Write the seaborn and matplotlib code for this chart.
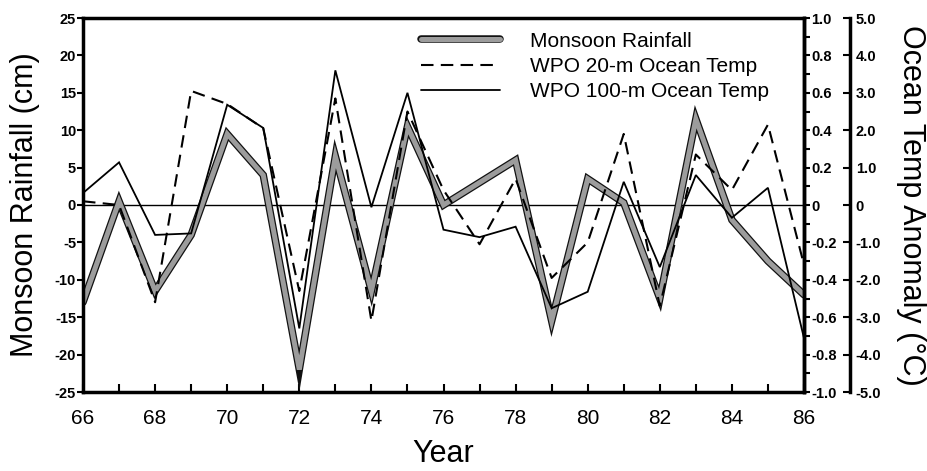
import matplotlib
matplotlib.use("Agg")
import matplotlib.pyplot as plt
import matplotlib.patheffects as pe
import seaborn as sns
import pandas as pd

# ---------------- data ----------------
years = list(range(66, 87))
rainfall_cm = [-13, 0.5, -11.5, -4, 9.5, 4, -22, 6.5, -11.5, 10.5, 0, 3, 6,
               -15.5, 3.5, 0.3, -12.5, 11.5, -2, -7.5, -12]
wpo20_temp = [0.02, 0.0, -0.52, 0.61, 0.54, 0.41, -0.46, 0.57, -0.62, 0.50,
              0.08, -0.21, 0.14, -0.39, -0.20, 0.38, -0.54, 0.27, 0.08, 0.43, -0.32]
wpo100_temp = [0.32, 1.14, -0.80, -0.76, 2.68, 2.06, -3.30, 3.60, -0.06, 3.00,
               -0.66, -0.86, -0.58, -2.76, -2.32, 0.62, -1.66, 0.80, -0.34, 0.46, -3.56]

series_names = ["Monsoon Rainfall", "WPO 20-m Ocean Temp", "WPO 100-m Ocean Temp"]

x_ticks = [66, 68, 70, 72, 74, 76, 78, 80, 82, 84, 86]
x_labels = ["66", "68", "70", "72", "74", "76", "78", "80", "82", "84", "86"]
rain_ticks = [25, 20, 15, 10, 5, 0, -5, -10, -15, -20, -25]
rain_labels = ["25", "20", "15", "10", "5", "0", "-5", "-10", "-15", "-20", "-25"]
t20_ticks = [1.0, 0.8, 0.6, 0.4, 0.2, 0, -0.2, -0.4, -0.6, -0.8, -1.0]
t20_labels = ["1.0", "0.8", "0.6", "0.4", "0.2", "0", "-0.2", "-0.4", "-0.6", "-0.8", "-1.0"]
t20_minor = [0.9, 0.7, 0.5, 0.3, 0.1, -0.1, -0.3, -0.5, -0.7, -0.9]
t100_ticks = [5.0, 4.0, 3.0, 2.0, 1.0, 0, -1.0, -2.0, -3.0, -4.0, -5.0]
t100_labels = ["5.0", "4.0", "3.0", "2.0", "1.0", "0", "-1.0", "-2.0", "-3.0", "-4.0", "-5.0"]

df = pd.DataFrame({"Year": years, "Rain": rainfall_cm, "T20": wpo20_temp, "T100": wpo100_temp})

# ---------------- style ----------------
sns.set_style("white")
plt.rcParams["font.family"] = ["Liberation Sans", "DejaVu Sans"]
plt.rcParams["axes.unicode_minus"] = False
for k in ("text.color", "axes.labelcolor", "xtick.color", "ytick.color", "axes.edgecolor"):
    plt.rcParams[k] = "black"

W, H = 927, 471
fig = plt.figure(figsize=(W / 100, H / 100), dpi=100)
L, R, T, B = 83, 804, 18, 392
ax = fig.add_axes([L / W, 1 - B / H, (R - L) / W, (B - T) / H])
ax2 = ax.twinx()
ax3 = ax.twinx()

# rainfall (thick grey with dark edge)
sns.lineplot(data=df, x="Year", y="Rain", ax=ax, color="#9c9c9c", linewidth=3.6,
             legend=False, solid_joinstyle="miter",
             path_effects=[pe.Stroke(linewidth=5.4, foreground="#111111"), pe.Normal()])
h_rain = ax.get_lines()[-1]
ax.axhline(0, color="black", linewidth=1.0, zorder=1)

# 20-m (dashed)
sns.lineplot(data=df, x="Year", y="T20", ax=ax2, color="black", linewidth=1.5,
             legend=False, dashes=False, linestyle=(0, (6, 3.5)))
h20 = ax2.get_lines()[-1]

# 100-m (solid)
sns.lineplot(data=df, x="Year", y="T100", ax=ax3, color="black", linewidth=1.3,
             legend=False)
h100 = ax3.get_lines()[-1]
h100.set_solid_joinstyle("miter")

# ---------------- axes ----------------
ax.set_xlim(66, 86)
ax.set_ylim(-25, 25)
ax2.set_ylim(-1, 1)
ax3.set_ylim(-5, 5)

ax.set_xticks(x_ticks)
ax.set_xticklabels(x_labels)
ax.set_xticks(years, minor=True)
ax.tick_params(axis="x", which="both", direction="in", length=6, width=1.5,
               pad=12, labelsize=15, bottom=True, top=False)
ax.set_yticks(rain_ticks)
ax.set_yticklabels(rain_labels, fontweight="bold")
ax.tick_params(axis="y", direction="out", length=4, width=1.5, pad=1,
               labelsize=10.5, left=True, right=False)

ax2.set_yticks(t20_ticks)
ax2.set_yticklabels(t20_labels, fontweight="bold")
ax2.set_yticks(t20_minor, minor=True)
ax2.tick_params(axis="y", which="both", direction="out", length=4, width=1.5,
                pad=1, labelsize=10.5, right=True, left=False)

ax3.spines["right"].set_position(("axes", 1.064))
ax3.set_yticks(t100_ticks)
ax3.set_yticklabels(t100_labels, fontweight="bold")
ax3.tick_params(axis="y", direction="in", length=5, width=1.5, pad=4,
                labelsize=10.5, right=True, left=False)

for a in (ax, ax2, ax3):
    for s in a.spines.values():
        s.set_linewidth(2.5)
        s.set_color("black")
for a in (ax2, ax3):
    a.spines["left"].set_visible(False)
    a.spines["top"].set_visible(False)
    a.spines["bottom"].set_visible(False)

ax.set_xlabel("Year", fontsize=22)
ax.xaxis.set_label_coords(0.5, -0.125)
ax.set_ylabel("Monsoon Rainfall (cm)", fontsize=22)
ax.yaxis.set_label_coords(-0.06, 0.5)
ax2.set_ylabel("")
ax3.set_ylabel("Ocean Temp Anomaly (°C)", fontsize=22, rotation=270, va="bottom")
ax3.yaxis.set_label_coords(1.128, 0.5)

leg = ax3.legend([h_rain, h20, h100], series_names, loc="upper left",
                 bbox_to_anchor=(0.45, 1.0), frameon=False, fontsize=15,
                 handlelength=3.8, handletextpad=1.45, labelspacing=0.3,
                 borderaxespad=0.25)

fig.savefig("out.png", dpi=100)
